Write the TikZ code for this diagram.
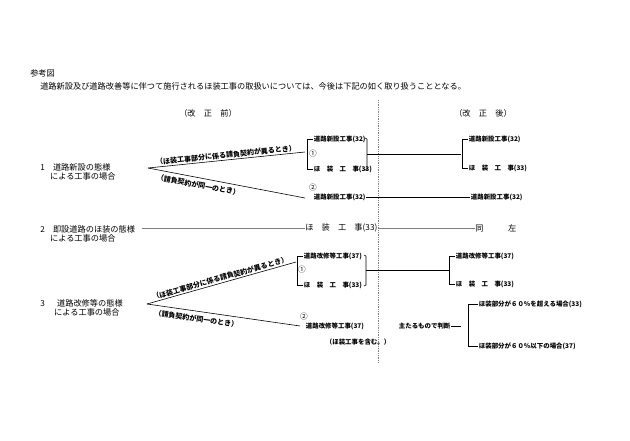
\documentclass[tikz,border=0pt]{standalone}
\usepackage{fontspec}
\setmainfont{Noto Sans CJK JP}
\usetikzlibrary{calc}
\tikzset{
  lbl/.style={anchor=west, inner sep=0.5pt, font=\fontsize{5.5}{6.5}\selectfont\bfseries},
  hd/.style={inner sep=0pt, font=\fontsize{7}{8}\selectfont},
  cond/.style={inner sep=1pt, font=\fontsize{6}{7}\selectfont\bfseries},
  num/.style={inner sep=0pt, font=\fontsize{6.5}{7}\selectfont},
}
\begin{document}
\begin{tikzpicture}[x=0.03cm, y=-0.03cm, line width=0.5pt]
\useasboundingbox (0,0) rectangle (630,441);
% header
\node[hd, anchor=west] (title) at (30,73) {参考図};
\node[hd, anchor=west] (intro) at (40,86) {道路新設及び道路改善等に伴つて施行されるほ装工事の取扱いについては、今後は下記の如く取り扱うこととなる。};
\node[hd] (before) at (208,113) {（改　正　前）};
\node[hd] (after) at (483,113) {（改　正　後）};
\draw[densely dotted, gray] (378,100) -- (378,362);

% case 1
\node[hd, anchor=west, align=left] (c1) at (40,172) {1　道路新設の態様\\\hspace{1.2em}による工事の場合};
\coordinate (o1) at (148,168);
\coordinate (u1) at (305,152);
\coordinate (d1) at (305,198);
\draw (o1) -- node[cond, above, sloped] {（ほ装工事部分に係る請負契約が異るとき）} (u1);
\draw (o1) -- node[cond, below=2pt, sloped, pos=0.33] {（請負契約が同一のとき）} (d1);
\node[lbl] (a1) at (313,139) {道路新設工事(32)};
\node[lbl] (b1) at (313,169) {ほ　装　工　事(33)};
\node[num] (n1) at (313,154) {①};
\draw (a1.west) -- ++(-6,0) |- (b1.west);
\draw (365,138) -- (367,139) -- (367,169) -- (365,170);
\draw (367,154) -- (461,154);
\node[lbl] (a1r) at (468,139) {道路新設工事(32)};
\node[lbl] (b1r) at (468,168) {ほ　装　工　事(33)};
\draw (a1r.west) -- ++(-6,0) |- (b1r.west);
\node[num] (m1) at (313,188) {②};
\node[lbl] (e1) at (313,197) {道路新設工事(32)};
\node[lbl] (e1r) at (470,197) {道路新設工事(32)};
\draw (e1.east) -- (e1r.west);

% case 2
\node[hd, anchor=west, align=left] (c2) at (40,234) {2　即設道路のほ装の態様\\\hspace{1.2em}による工事の場合};
\node[hd, anchor=west] (p2) at (305,228) {ほ　装　工　事(33)};
\node[hd, anchor=west] (s2) at (475,228) {同　　　左};
\draw[gray] (142,228) -- (p2.west);
\draw[gray] (p2.east) -- (s2.west);

% case 3
\node[hd, anchor=west, align=left] (c3) at (40,308) {3　\hspace{0.5em}道路改修等の態様\\\hspace{1.7em}による工事の場合};
\coordinate (o3) at (147,304);
\coordinate (u3) at (296,262);
\coordinate (d3) at (300,326);
\draw (o3) -- node[cond, above, sloped] {（ほ装工事部分に係る請負契約が異るとき）} (u3);
\draw (o3) -- node[cond, below=2pt, sloped, pos=0.33] {（請負契約が同一のとき）} (d3);
\node[lbl] (a3) at (303,256) {道路改修等工事(37)};
\node[lbl] (b3) at (303,285) {ほ　装　工　事(33)};
\node[num] (n3) at (302,270) {①};
\draw (a3.west) -- ++(-6,0) |- (b3.west);
\draw (364,255) -- (366,256) -- (366,285) -- (364,286);
\draw (366,270) -- (449,270);
\node[lbl] (a3r) at (455,256) {道路改修等工事(37)};
\node[lbl] (b3r) at (455,284) {ほ　装　工　事(33)};
\draw (a3r.west) -- ++(-6,0) |- (b3r.west);
\node[num] (m3) at (304,317) {②};
\node[lbl] (e3) at (305,326) {道路改修等工事(37)};
\node[lbl] (f3) at (325,342) {（ほ装工事を含む。）};
\node[lbl] (j3) at (398,326) {主たるもので判断};
\node[lbl] (g3) at (478,304) {ほ装部分が６０％を超える場合(33)};
\node[lbl] (h3) at (478,346) {ほ装部分が６０％以下の場合(37)};
\draw (j3.east) -- ++(10,0);
\draw (g3.west) -- ++(-10,0) |- (h3.west);
\end{tikzpicture}
\end{document}
